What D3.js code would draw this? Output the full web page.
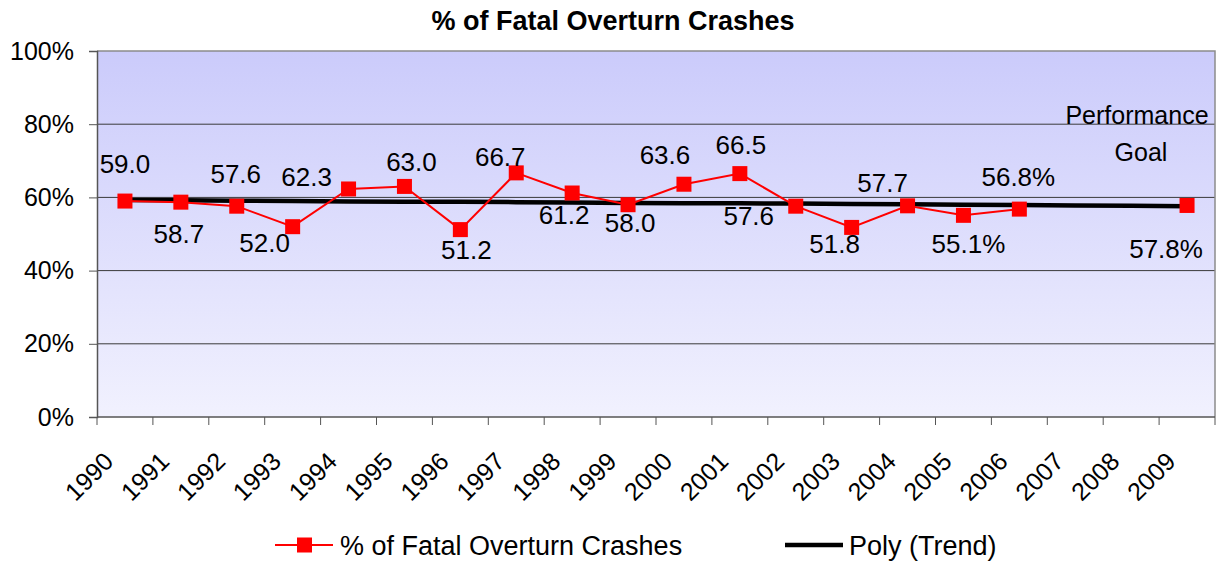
<!DOCTYPE html>
<html>
<head>
<meta charset="utf-8">
<script src="https://cdn.jsdelivr.net/npm/d3@7"></script>
<style>
  body { margin: 0; background: #fff; }
  svg text { font-family: "Liberation Sans", Arial, sans-serif; fill: #000; }
</style>
</head>
<body>
<svg id="chart" width="1225" height="565"></svg>
<script>
// data
const years = ["1990","1991","1992","1993","1994","1995","1996","1997","1998","1999",
               "2000","2001","2002","2003","2004","2005","2006","2007","2008","2009"];
const overturnPct = [59.0, 58.7, 57.6, 52.0, 62.3, 63.0, 51.2, 66.7, 61.2, 58.0,
                     63.6, 66.5, 57.6, 51.8, 57.7, 55.1, 56.8, null, null, 57.8];
const trendPct = [59.3, 59.2, 59.1, 59.0, 58.9, 58.8, 58.8, 58.7, 58.6, 58.5,
                  58.4, 58.4, 58.3, 58.2, 58.1, 58.0, 57.9, 57.8, 57.7, 57.6];
const percentLabelYears = ["2005", "2006", "2009"];
const yTicks = [0, 20, 40, 60, 80, 100];
const goalText = ["Performance", "Goal"];

// hand placed label offsets (dx, dy) from each marker, like the original
const labelShift = [[0,-37],[-2,31],[-1,-33],[-28,16],[-42,-12],[7,-25],[6,20],[-16,-16],[-8,22],[2,18],
                    [-19,-30],[1,-29],[-47,9],[-17,16],[-25,-23],[5,28],[-1,-32],null,null,[-21,43]];

const svg = d3.select("#chart"),
    m = {left: 97, right: 1215, top: 51, bottom: 417};

const x = d3.scaleBand().domain(years).range([m.left, m.right]),
    y = d3.scaleLinear().domain([0, 100]).range([m.bottom, m.top]);
const cx = d => x(d) + x.bandwidth() / 2;

// plot area gradient
const grad = svg.append("defs").append("linearGradient")
    .attr("id", "bg").attr("x1", 0).attr("y1", 0).attr("x2", 0).attr("y2", 1);
grad.append("stop").attr("offset", "0%").attr("stop-color", "#cbcbfb");
grad.append("stop").attr("offset", "100%").attr("stop-color", "#f1f1fe");
svg.append("rect").attr("x", m.left).attr("y", m.top)
    .attr("width", m.right - m.left).attr("height", m.bottom - m.top)
    .attr("fill", "url(#bg)");

// gridlines
svg.append("g").selectAll("line").data(yTicks.filter(d => d > 0 && d < 100)).join("line")
    .attr("x1", m.left).attr("x2", m.right)
    .attr("y1", d => y(d)).attr("y2", d => y(d))
    .attr("stroke", "#3a3a3a").attr("stroke-width", 1);

// border top / right
svg.append("path")
    .attr("d", `M${m.left},${m.top}H${m.right}V${m.bottom}`)
    .attr("fill", "none").attr("stroke", "#8c8c8c").attr("stroke-width", 1.5);

// y axis
const yAxis = svg.append("g").attr("transform", `translate(${m.left},0)`)
    .call(d3.axisLeft(y).tickValues(yTicks).tickFormat(d => d + "%").tickSize(8).tickPadding(15));
yAxis.select(".domain").attr("stroke", "#555").attr("stroke-width", 1.5);
yAxis.selectAll(".tick line").attr("stroke", "#555");
yAxis.selectAll("text").attr("font-size", 25).attr("font-family", "Liberation Sans, Arial, sans-serif");

// x axis: ticks on category boundaries
const xg = svg.append("g");
xg.append("line").attr("x1", m.left).attr("x2", m.right)
    .attr("y1", m.bottom).attr("y2", m.bottom).attr("stroke", "#555").attr("stroke-width", 1.5);
xg.selectAll("line.tk").data(years.concat(["end"])).join("line").attr("class", "tk")
    .attr("x1", d => d === "end" ? m.right : x(d)).attr("x2", d => d === "end" ? m.right : x(d))
    .attr("y1", m.bottom).attr("y2", m.bottom + 8).attr("stroke", "#555");
xg.selectAll("text").data(years).join("text")
    .attr("transform", d => `translate(${cx(d) - 10},463) rotate(-45)`)
    .attr("text-anchor", "end").attr("font-size", 25)
    .text(d => d);

// trend line
svg.append("path").datum(years)
    .attr("fill", "none").attr("stroke", "#000").attr("stroke-width", 4.5)
    .attr("d", d3.line().x(d => cx(d)).y((d, i) => y(trendPct[i])));

// series line with gaps
const pts = years.map((d, i) => ({year: d, v: overturnPct[i], i}));
svg.append("path").datum(pts)
    .attr("fill", "none").attr("stroke", "#ff0000").attr("stroke-width", 2)
    .attr("d", d3.line().defined(d => d.v != null).x(d => cx(d.year)).y(d => y(d.v)));

svg.append("g").selectAll("rect").data(pts.filter(d => d.v != null)).join("rect")
    .attr("x", d => cx(d.year) - 7.5).attr("y", d => y(d.v) - 7.5)
    .attr("width", 15).attr("height", 15).attr("fill", "#ff0000");

// data labels
svg.append("g").selectAll("text").data(pts.filter(d => d.v != null)).join("text")
    .attr("x", d => cx(d.year) + labelShift[d.i][0])
    .attr("y", d => y(d.v) + labelShift[d.i][1])
    .attr("dy", "0.36em").attr("text-anchor", "middle").attr("font-size", 26)
    .text(d => d.v.toFixed(1) + (percentLabelYears.includes(d.year) ? "%" : ""));

// performance goal note
svg.append("g").selectAll("text").data(goalText).join("text")
    .attr("x", (d, i) => i === 0 ? 1137 : 1141).attr("y", (d, i) => i === 0 ? 115 : 152)
    .attr("dy", "0.36em").attr("text-anchor", "middle").attr("font-size", 25)
    .text(d => d);

// title
svg.append("text").attr("x", 613).attr("y", 20).attr("dy", "0.36em")
    .attr("text-anchor", "middle").attr("font-size", 27).attr("font-weight", "bold")
    .text("% of Fatal Overturn Crashes");

// legend
const lg = svg.append("g");
lg.append("line").attr("x1", 275).attr("x2", 333).attr("y1", 545).attr("y2", 545)
    .attr("stroke", "#ff0000").attr("stroke-width", 2);
lg.append("rect").attr("x", 297).attr("y", 537.5).attr("width", 15).attr("height", 15).attr("fill", "#ff0000");
lg.append("text").attr("x", 340).attr("y", 545).attr("dy", "0.36em").attr("font-size", 27)
    .text("% of Fatal Overturn Crashes");
lg.append("line").attr("x1", 785).attr("x2", 843).attr("y1", 545).attr("y2", 545)
    .attr("stroke", "#000").attr("stroke-width", 4.5);
lg.append("text").attr("x", 849).attr("y", 545).attr("dy", "0.36em").attr("font-size", 27)
    .text("Poly (Trend)");
</script>
</body>
</html>
